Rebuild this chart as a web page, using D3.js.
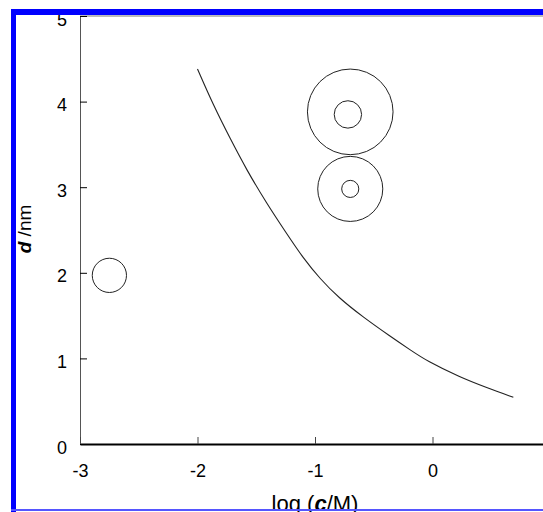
<!DOCTYPE html>
<html>
<head>
  <meta charset="utf-8">
  <style>
    body {
      margin: 0;
      background: #fff;
    }
    text {
      font-family: "Liberation Sans", Arial, sans-serif;
    }
    .tick text {
      font-size: 18px;
      fill: #000;
    }
  </style>
</head>
<body>
  <script src="https://d3js.org/d3.v7.min.js"></script>
  <script>
    var width = 543,
        height = 512;

    // curve: d (nm) against log(c/M)
    var curveLogC = [-2.0, -1.866, -1.723, -1.581, -1.411, -1.247, -1.10, -0.957, -0.80, -0.589, -0.362, -0.191, -0.049, 0.234, 0.461, 0.688];
    var curveD    = [4.38, 3.96, 3.57, 3.20, 2.81, 2.47, 2.17, 1.93, 1.71, 1.48, 1.26, 1.10, 0.97, 0.78, 0.658, 0.546];

    // circles: centre (log c, d) and radius in nm
    var circleLogC = [-2.75, -0.70, -0.70, -0.70, -0.72];
    var circleD    = [1.97, 2.98, 2.98, 3.88, 3.85];
    var circleR    = [0.2, 0.38, 0.1, 0.5, 0.16];

    var xTicks = [-3, -2, -1, 0];
    var yTicks = [0, 1, 2, 3, 4, 5];

    var svg = d3.select("body").append("svg")
        .attr("width", width)
        .attr("height", height);

    var x = d3.scaleLinear().domain([-3, 1]).range([80, 550]);
    var y = d3.scaleLinear().domain([0, 5]).range([444, 16]);

    var fmt = function(d) { return String(d); };

    // top frame line
    svg.append("line")
        .attr("x1", x(-3)).attr("x2", width)
        .attr("y1", y(5)).attr("y2", y(5))
        .attr("stroke", "#777")
        .attr("stroke-width", 1);

    var yAxis = svg.append("g")
        .attr("transform", "translate(" + x(-3) + ",0)")
        .call(d3.axisLeft(y).tickValues(yTicks).tickFormat(fmt).tickSizeInner(-7).tickSizeOuter(0).tickPadding(13));
    yAxis.select(".domain").attr("stroke", "#555");
    yAxis.selectAll(".tick text").attr("dy", "0.5em");

    var xAxis = svg.append("g")
        .attr("transform", "translate(0," + y(0) + ")")
        .call(d3.axisBottom(x).tickValues(xTicks).tickFormat(fmt).tickSizeInner(-7).tickSizeOuter(0).tickPadding(20));
    xAxis.select(".domain").attr("stroke", "#000").attr("stroke-width", 2);
    xAxis.selectAll(".tick line").attr("stroke", "#444");

    var line = d3.line()
        .x(function(d, i) { return x(curveLogC[i]); })
        .y(function(d) { return y(d); })
        .curve(d3.curveBasis);

    svg.append("path")
        .datum(curveD)
        .attr("fill", "none")
        .attr("stroke", "#222")
        .attr("stroke-width", 1.1)
        .attr("d", line);

    svg.selectAll(".ring")
        .data(circleR)
      .enter().append("circle")
        .attr("class", "ring")
        .attr("cx", function(d, i) { return x(circleLogC[i]); })
        .attr("cy", function(d, i) { return y(circleD[i]); })
        .attr("r", function(d) { return y(0) - y(d); })
        .attr("fill", "none")
        .attr("stroke", "#222")
        .attr("stroke-width", 1);

    // axis titles
    var yTitle = svg.append("text")
        .attr("transform", "translate(31,229) rotate(-90)")
        .attr("text-anchor", "middle")
        .style("font-size", "19px");
    yTitle.append("tspan").text("d").style("font-weight", "bold").style("font-style", "italic");
    yTitle.append("tspan").text(" /nm");

    var xTitle = svg.append("text")
        .attr("x", 315)
        .attr("y", 511)
        .attr("text-anchor", "middle")
        .style("font-size", "22px");
    xTitle.append("tspan").text("log (");
    xTitle.append("tspan").text("c").style("font-weight", "bold").style("font-style", "italic");
    xTitle.append("tspan").text("/M)");

    // blue page frame
    svg.append("rect").attr("x", 11).attr("y", 9).attr("width", 5).attr("height", height - 9).attr("fill", "#0000ff");
    svg.append("rect").attr("x", 11).attr("y", 9).attr("width", width - 11).attr("height", 6).attr("fill", "#0000ff");
    svg.append("rect").attr("x", 11).attr("y", 509).attr("width", width - 11).attr("height", 2).attr("fill", "#5555ff");
  </script>
</body>
</html>
